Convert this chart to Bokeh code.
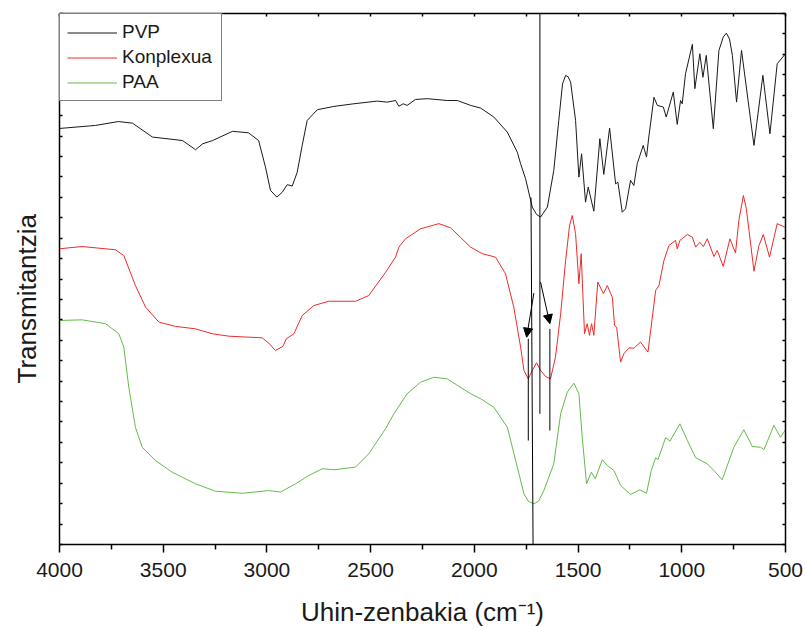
from bokeh.plotting import figure
from bokeh.models import (Range1d, LinearAxis, FixedTicker, Legend, LegendItem,
                          Title, Arrow, NormalHead, ColumnDataSource, CustomLabelingPolicy)
from bokeh.embed import file_html
from bokeh.resources import INLINE

# ---------------- data (wavenumber cm-1, transmittance a.u.) ----------------
pvp_wn = [4000, 3826, 3716, 3648, 3552, 3407, 3344, 3310, 3262, 3166, 3089, 3040, 3007, 2983, 2952,
          2926, 2902, 2878, 2854, 2830, 2806, 2757, 2677, 2581, 2468, 2420, 2380, 2364, 2343, 2324,
          2284, 2227, 2131, 2082, 2018, 1970, 1906, 1841, 1793, 1777, 1753, 1721, 1700, 1681, 1648,
          1617, 1593, 1575, 1560, 1548, 1536, 1512, 1496, 1483, 1464, 1451, 1424, 1395, 1376, 1348, 1319, 1308,
          1287, 1271, 1247, 1231, 1215, 1186, 1170, 1159, 1134, 1118, 1089, 1075, 1041, 1022, 1006,
          998, 982, 949, 937, 913, 898, 882, 848, 821, 800, 785, 770, 756, 736, 712, 652, 609, 575, 540, 500]
pvp_t = [20.37, 20.52, 20.71, 20.63, 19.95, 19.78, 19.33, 19.62, 19.78, 20.23, 20.16, 19.78, 18.48, 17.34, 17.01,
         17.25, 17.62, 17.55, 18.23, 19.54, 20.76, 21.29, 21.45, 21.58, 21.71, 21.66, 21.74, 21.46, 21.58, 21.50,
         21.79, 21.83, 21.74, 21.74, 21.50, 21.37, 20.93, 20.19, 19.21, 18.64, 17.91, 16.52, 16.16, 16.03, 16.52,
         18.32, 20.76, 22.55, 22.97, 22.90, 22.64, 20.76, 17.99, 19.13, 16.76, 17.50, 16.32, 19.87, 18.12, 20.39, 17.66, 17.74,
         16.27, 16.44, 17.83, 17.58, 18.64, 19.54, 18.97, 19.95, 21.90, 21.50, 21.42, 20.93, 22.15, 20.57, 21.74,
         21.58, 23.05, 24.49, 22.32, 24.03, 22.88, 23.95, 20.36, 24.19, 24.85, 25.04, 24.75, 23.95, 21.66, 24.19, 19.54, 22.97,
         20.11, 23.54, 24.03]

kom_wn = [4000, 4000, 3891, 3730, 3690, 3634, 3585, 3521, 3441, 3344, 3264, 3184, 3023, 2991, 2959,
          2923, 2907, 2870, 2830, 2774, 2702, 2573, 2509, 2428, 2380, 2364, 2332, 2259, 2171, 2115,
          2018, 1962, 1898, 1850, 1810, 1777, 1761, 1740, 1721, 1700, 1681, 1657, 1633, 1609, 1584,
          1560, 1541, 1528, 1512, 1496, 1485, 1469, 1456, 1445, 1435, 1424, 1405, 1378, 1359, 1335,
          1324, 1314, 1295, 1279, 1255, 1231, 1199, 1163, 1126, 1110, 1086, 1062, 1030, 1022, 1009,
          973, 949, 933, 913, 896, 877, 845, 829, 800, 768, 741, 725, 703, 689, 676,
          652, 628, 607, 577, 540, 504, 500]
kom_t = [7.05, 14.48, 14.59, 14.43, 14.15, 12.68, 11.62, 10.89, 10.68, 10.56, 10.32, 10.20, 10.12, 9.86, 9.50,
         9.70, 10.07, 10.32, 11.21, 11.70, 11.91, 11.91, 12.19, 13.33, 14.07, 14.56, 14.97, 15.46, 15.71, 15.51,
         14.56, 14.24, 14.07, 13.26, 11.62, 9.66, 8.52, 8.11, 8.52, 8.90, 8.52, 8.23, 8.11, 9.17, 11.30,
         13.91, 15.62, 16.11, 15.22, 12.77, 14.24, 10.32, 10.81, 10.24, 10.81, 10.24, 12.85, 12.28, 12.68, 12.11,
         10.72, 10.64, 8.93, 9.34, 9.63, 9.61, 9.91, 9.42, 12.44, 12.68, 13.91, 14.64, 14.89, 14.48, 14.89,
         15.18, 15.05, 14.56, 14.80, 14.59, 14.97, 14.10, 14.40, 13.61, 14.97, 14.27, 15.87, 17.09, 16.45, 15.38,
         13.38, 14.64, 15.18, 14.07, 15.71, 15.54, 15.57]

paa_wn = [4000, 4000, 3891, 3778, 3714, 3690, 3666, 3634, 3601, 3537, 3457, 3344, 3248, 3119, 2991,
          2934, 2862, 2798, 2733, 2677, 2573, 2509, 2428, 2388, 2324, 2259, 2195, 2131, 2018, 1970,
          1906, 1841, 1793, 1761, 1739, 1713, 1690, 1665, 1617, 1584, 1552, 1520, 1496, 1480, 1459,
          1436, 1417, 1383, 1359, 1327, 1295, 1247, 1202, 1170, 1147, 1126, 1115, 1078, 1057, 1009,
          973, 933, 877, 845, 805, 749, 701, 660, 620, 604, 556, 524, 500]
paa_t = [0.83, 10.97, 11.00, 10.81, 10.32, 9.66, 7.70, 5.74, 4.76, 4.11, 3.54, 2.97, 2.61, 2.51, 2.64,
         2.57, 2.97, 3.38, 3.71, 3.66, 3.79, 4.44, 5.67, 6.40, 7.38, 7.95, 8.19, 8.11, 7.38, 7.14,
         6.72, 5.74, 3.79, 2.48, 2.11, 1.99, 2.13, 2.64, 3.95, 6.40, 7.46, 7.90, 7.38, 5.25, 2.97,
         3.54, 3.22, 4.15, 3.87, 3.62, 2.89, 2.45, 2.68, 2.51, 3.62, 4.25, 4.15, 5.23, 5.06, 5.91,
         5.09, 4.25, 3.95, 3.62, 3.17, 4.76, 5.62, 4.80, 4.76, 4.64, 5.83, 5.25, 5.62]

series_names = ["PVP", "Konplexua", "PAA"]

# marker lines and arrows (band positions)
mark_x0 = [1727, 1684, 1740, 1636]
mark_y0 = [16.99, 26.0, 10.07, 10.56]
mark_x1 = [1717, 1684, 1740, 1636]
mark_y1 = [0.0, 6.40, 5.09, 5.58]
arrow_xs = [1713, 1681]
arrow_ys = [12.31, 12.85]
arrow_xe = [1748, 1636]
arrow_ye = [10.15, 10.81]

x_major = [4000, 3500, 3000, 2500, 2000, 1500, 1000, 500]
x_minor = [3750, 3250, 2750, 2250, 1750, 1250, 750]
y_ticks = list(range(0, 27))

FONT = "Liberation Sans"
HIDE = "for (const i of Array.from(indices)) { indices.unset(i) }\nreturn indices"

p = figure(width=805, height=629, x_range=Range1d(4000, 500), y_range=Range1d(0, 26),
           output_backend="svg", toolbar_location=None,
           min_border_left=59, min_border_right=20, min_border_top=13, min_border_bottom=85)
p.xgrid.visible = False
p.ygrid.visible = False
p.outline_line_color = None
p.background_fill_color = "white"

# bottom axis
xa = p.xaxis[0]
xa.ticker = FixedTicker(ticks=x_major, minor_ticks=x_minor)
xa.major_tick_in = 0
xa.major_tick_out = 8
xa.minor_tick_in = 0
xa.minor_tick_out = 5
xa.axis_line_width = 1.5
xa.major_tick_line_width = 1.5
xa.minor_tick_line_width = 1.5
xa.major_label_text_font = FONT
xa.major_label_text_font_size = "21px"
xa.major_label_text_color = "#1a1a1a"
xa.major_label_standoff = 10
xa.axis_label = "Uhin-zenbakia (cm\u207b\u00b9)"
xa.axis_label_text_font = FONT
xa.axis_label_text_font_size = "26px"
xa.axis_label_text_font_style = "normal"
xa.axis_label_text_color = "#1a1a1a"
xa.axis_label_standoff = 17


def plain_axis(ax, ticks):
    ax.ticker = FixedTicker(ticks=ticks, minor_ticks=[])
    ax.major_tick_in = 3
    ax.major_tick_out = 0
    ax.minor_tick_in = 0
    ax.minor_tick_out = 0
    ax.axis_line_width = 1.5
    ax.major_tick_line_width = 1.5
    ax.major_label_text_font_size = "1px"
    ax.major_label_standoff = 0
    ax.major_label_policy = CustomLabelingPolicy(code=HIDE)


plain_axis(p.yaxis[0], y_ticks)
ra = LinearAxis()
plain_axis(ra, y_ticks)
p.add_layout(ra, "right")
ta = LinearAxis()
plain_axis(ta, x_major + x_minor)
p.add_layout(ta, "above")

# y title
yt = Title(text="Transmitantzia", align="left", offset=161, vertical_align="top", text_font=FONT,
           text_font_size="26px", text_font_style="normal", text_color="#1a1a1a", standoff=23)
p.add_layout(yt, "left")

# curves
r_paa = p.line(paa_wn, paa_t, line_color="#63bb4a", line_width=1)
r_kom = p.line(kom_wn, kom_t, line_color="#ee2a2a", line_width=1)
r_pvp = p.line(pvp_wn, pvp_t, line_color="#1a1a1a", line_width=1)

# marker lines
p.segment(x0=mark_x0, y0=mark_y0, x1=mark_x1, y1=mark_y1, line_color="black", line_width=1)
asrc = ColumnDataSource(dict(xs=arrow_xs, ys=arrow_ys, xe=arrow_xe, ye=arrow_ye))
p.add_layout(Arrow(end=NormalHead(size=9, fill_color="black", line_color="black"),
                   x_start="xs", y_start="ys", x_end="xe", y_end="ye", source=asrc,
                   line_color="black", line_width=1))

legend = Legend(items=[LegendItem(label=series_names[0], renderers=[r_pvp]),
                       LegendItem(label=series_names[1], renderers=[r_kom]),
                       LegendItem(label=series_names[2], renderers=[r_paa])],
                location="top_left", margin=0, padding=7, spacing=3,
                glyph_width=50, glyph_height=21, label_height=21, label_width=92, label_standoff=5,
                label_text_font=FONT, label_text_font_size="19px", label_text_color="#1a1a1a",
                border_line_color="black", border_line_width=1, background_fill_alpha=1)
p.add_layout(legend)

open("out.html", "w").write(file_html(p, INLINE))
